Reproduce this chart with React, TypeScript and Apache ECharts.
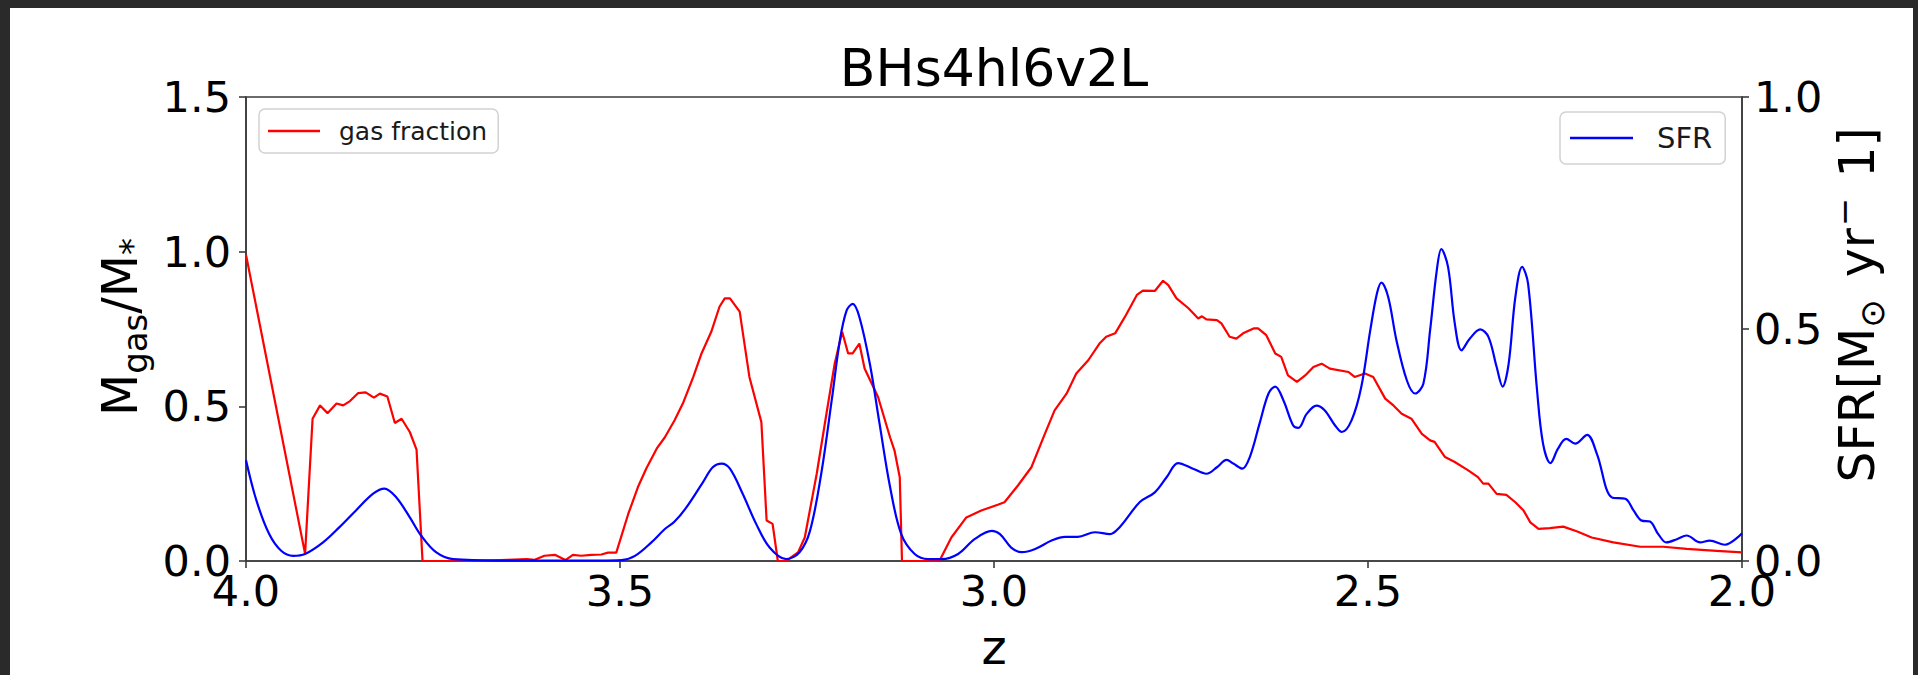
import React, { useEffect, useRef } from "react";
import * as echarts from "echarts";

const TITLE = "BHs4hl6v2L";
const X_TICKS = [4.0, 3.5, 3.0, 2.5, 2.0];
const LEFT_TICKS = [0.0, 0.5, 1.0, 1.5];
const RIGHT_TICKS = [0.0, 0.5, 1.0];
const GAS_NAME = "gas fraction";
const SFR_NAME = "SFR";

// [z, Mgas/M*]
const gasFraction: [number, number][] = [
  [4.0, 0.99], [3.921, 0.023], [3.911, 0.46], [3.901, 0.503], [3.891, 0.478], [3.879, 0.509],
  [3.87, 0.503], [3.861, 0.517], [3.85, 0.543], [3.84, 0.545], [3.829, 0.528], [3.821, 0.541],
  [3.811, 0.532], [3.801, 0.446], [3.792, 0.46], [3.781, 0.417], [3.772, 0.36], [3.764, 0.0],
  [3.7, 0.0], [3.65, 0.004], [3.625, 0.006], [3.614, 0.004], [3.601, 0.017], [3.587, 0.02],
  [3.573, 0.003], [3.563, 0.02], [3.552, 0.017], [3.538, 0.02], [3.525, 0.021], [3.516, 0.027],
  [3.505, 0.027], [3.489, 0.152], [3.476, 0.239], [3.465, 0.298], [3.451, 0.363], [3.44, 0.4],
  [3.427, 0.455], [3.416, 0.509], [3.402, 0.595], [3.391, 0.671], [3.378, 0.741], [3.367, 0.822],
  [3.36, 0.849], [3.353, 0.849], [3.34, 0.806], [3.327, 0.595], [3.311, 0.449], [3.304, 0.131],
  [3.296, 0.12], [3.289, 0.0], [3.278, 0.0], [3.262, 0.028], [3.253, 0.076], [3.237, 0.282],
  [3.224, 0.476], [3.213, 0.638], [3.203, 0.741], [3.195, 0.671], [3.189, 0.671], [3.18, 0.703],
  [3.173, 0.622], [3.155, 0.53], [3.139, 0.4], [3.133, 0.357], [3.126, 0.271], [3.123, 0.0],
  [3.073, 0.0], [3.057, 0.076], [3.037, 0.141], [3.017, 0.163], [2.995, 0.182], [2.986, 0.19],
  [2.968, 0.244], [2.95, 0.303], [2.932, 0.411], [2.919, 0.487], [2.903, 0.541], [2.89, 0.606],
  [2.874, 0.649], [2.859, 0.703], [2.85, 0.725], [2.838, 0.736], [2.825, 0.789], [2.809, 0.86],
  [2.801, 0.874], [2.785, 0.873], [2.774, 0.906], [2.767, 0.892], [2.756, 0.849], [2.74, 0.817],
  [2.727, 0.784], [2.722, 0.791], [2.716, 0.781], [2.702, 0.779], [2.696, 0.768], [2.685, 0.725],
  [2.676, 0.719], [2.667, 0.736], [2.653, 0.752], [2.647, 0.752], [2.636, 0.73], [2.624, 0.671],
  [2.616, 0.66], [2.607, 0.6], [2.595, 0.579], [2.584, 0.6], [2.573, 0.627], [2.562, 0.638],
  [2.551, 0.622], [2.526, 0.611], [2.518, 0.595], [2.504, 0.606], [2.493, 0.595], [2.477, 0.525],
  [2.466, 0.503], [2.455, 0.476], [2.442, 0.46], [2.428, 0.411], [2.417, 0.39], [2.411, 0.385],
  [2.397, 0.336], [2.384, 0.32], [2.366, 0.293], [2.353, 0.271], [2.346, 0.25], [2.339, 0.25],
  [2.328, 0.217], [2.315, 0.214], [2.303, 0.19], [2.292, 0.163], [2.283, 0.125], [2.272, 0.104],
  [2.257, 0.106], [2.239, 0.111], [2.221, 0.096], [2.201, 0.076], [2.172, 0.06], [2.136, 0.046],
  [2.105, 0.046], [2.074, 0.039], [2.034, 0.033], [2.0, 0.028],
];

// [z, SFR]
const sfr: [number, number][] = [
  [4.0, 0.217], [3.986, 0.13], [3.969, 0.058], [3.953, 0.022], [3.937, 0.011], [3.921, 0.015],
  [3.897, 0.04], [3.875, 0.073], [3.853, 0.109], [3.83, 0.145], [3.815, 0.156], [3.799, 0.137],
  [3.781, 0.094], [3.766, 0.055], [3.746, 0.019], [3.723, 0.004], [3.661, 0.001], [3.527, 0.001],
  [3.498, 0.002], [3.48, 0.011], [3.458, 0.04], [3.44, 0.069], [3.427, 0.085], [3.411, 0.116],
  [3.389, 0.17], [3.376, 0.202], [3.364, 0.21], [3.353, 0.199], [3.336, 0.145], [3.318, 0.08],
  [3.3, 0.029], [3.278, 0.004], [3.26, 0.019], [3.246, 0.065], [3.231, 0.188], [3.217, 0.346],
  [3.206, 0.476], [3.197, 0.54], [3.189, 0.554], [3.18, 0.526], [3.166, 0.425], [3.153, 0.296],
  [3.139, 0.16], [3.124, 0.058], [3.106, 0.015], [3.088, 0.004], [3.07, 0.004], [3.048, 0.015],
  [3.026, 0.047], [3.003, 0.065], [2.992, 0.058], [2.977, 0.029], [2.963, 0.019], [2.945, 0.026],
  [2.923, 0.044], [2.905, 0.052], [2.888, 0.052], [2.865, 0.062], [2.845, 0.058], [2.832, 0.073],
  [2.805, 0.127], [2.785, 0.148], [2.769, 0.181], [2.754, 0.211], [2.734, 0.199], [2.716, 0.188],
  [2.702, 0.202], [2.689, 0.218], [2.68, 0.21], [2.668, 0.199], [2.658, 0.224], [2.645, 0.296],
  [2.633, 0.361], [2.624, 0.376], [2.613, 0.346], [2.6, 0.292], [2.593, 0.287], [2.582, 0.317],
  [2.569, 0.335], [2.558, 0.325], [2.544, 0.292], [2.535, 0.278], [2.522, 0.303], [2.509, 0.375],
  [2.497, 0.497], [2.488, 0.577], [2.482, 0.6], [2.473, 0.569], [2.462, 0.476], [2.448, 0.389],
  [2.437, 0.361], [2.426, 0.382], [2.417, 0.497], [2.408, 0.627], [2.402, 0.672], [2.393, 0.634],
  [2.384, 0.512], [2.375, 0.454], [2.364, 0.479], [2.35, 0.499], [2.339, 0.483], [2.328, 0.418],
  [2.32, 0.376], [2.312, 0.425], [2.303, 0.569], [2.294, 0.634], [2.286, 0.598], [2.274, 0.368],
  [2.266, 0.253], [2.256, 0.211], [2.246, 0.242], [2.235, 0.263], [2.223, 0.253], [2.207, 0.272],
  [2.194, 0.231], [2.174, 0.137], [2.156, 0.134], [2.145, 0.109], [2.134, 0.087], [2.123, 0.085],
  [2.112, 0.058], [2.101, 0.04], [2.087, 0.047], [2.074, 0.055], [2.056, 0.04], [2.043, 0.044],
  [2.023, 0.035], [2.0, 0.06],
];

const FONT = "DejaVu Sans";
const AXIS_COLOR = "#3c3c3c";

let measureCtx: CanvasRenderingContext2D | null = null;
function measure(text: string, size: number): number {
  if (!measureCtx) measureCtx = document.createElement("canvas").getContext("2d");
  if (!measureCtx) return text.length * size * 0.6;
  measureCtx.font = `${size}px "${FONT}"`;
  return measureCtx.measureText(text).width;
}

type Part = { t: string; size: number; dy: number; gap?: number };
// builds text pieces on a common baseline (local y = 0), centred on local x = 0
function mathPieces(parts: Part[]) {
  const widths = parts.map((p) => measure(p.t, p.size) + (p.gap || 0));
  const total = widths.reduce((a, b) => a + b, 0);
  let x = -total / 2;
  return parts.map((p, i) => {
    const el = {
      type: "text",
      x: x + (p.gap || 0),
      y: p.dy - 0.346 * p.size,
      style: {
        text: p.t,
        fontSize: p.size,
        fontFamily: FONT,
        fill: "#000",
        align: "left",
        verticalAlign: "middle",
      },
    };
    x += widths[i];
    return el;
  });
}

export default function App() {
  const ref = useRef<HTMLDivElement>(null);
  useEffect(() => {
    document.body.style.margin = "0";
    const chart = echarts.init(ref.current!, undefined, { renderer: "svg" });
    const S = 49;
    const s = 34;
    const leftLabel = mathPieces([
      { t: "M", size: S, dy: 0 },
      { t: "gas", size: s, dy: 10 },
      { t: "/M", size: S, dy: 0 },
      { t: "*", size: s, dy: 7 },
    ]);
    const rightLabel = mathPieces([
      { t: "SFR[M", size: S, dy: 0 },
      { t: "\u2299", size: s, dy: 10 },
      { t: "yr", size: S, dy: 0, gap: 22 },
      { t: "\u2212", size: s, dy: -18, gap: 2 },
      { t: "1]", size: S, dy: 0, gap: 20 },
    ]);
    const tickFmt = (v: number) => v.toFixed(1);
    const option: any = {
      animation: false,
      backgroundColor: "#2a2a2a",
      title: {
        text: TITLE,
        left: 994,
        top: 68,
        padding: 0,
        textAlign: "center",
        textVerticalAlign: "middle",
        textStyle: { fontFamily: FONT, fontSize: 52, fontWeight: "normal", color: "#000" },
      },
      grid: {
        left: 246,
        top: 97,
        right: 176,
        bottom: 114,
        show: true,
        backgroundColor: "#fff",
        borderColor: AXIS_COLOR,
        borderWidth: 1.6,
      },
      legend: [
        {
          data: [GAS_NAME],
          left: 259,
          top: 109,
          padding: [9, 11, 9, 9],
          icon: "rect",
          itemWidth: 52,
          itemHeight: 2.4,
          backgroundColor: "#fff",
          borderColor: "#d2d2d2",
          borderWidth: 1.5,
          borderRadius: 6,
          selectedMode: false,
          textStyle: { fontFamily: FONT, fontSize: 25, color: "#1a1a1a", padding: [0, 0, 0, 14], lineHeight: 26 },
        },
        {
          data: [SFR_NAME],
          left: 1560,
          top: 112,
          padding: [11, 13, 11, 10],
          icon: "rect",
          itemWidth: 63,
          itemHeight: 2.6,
          backgroundColor: "#fff",
          borderColor: "#d2d2d2",
          borderWidth: 1.5,
          borderRadius: 6,
          selectedMode: false,
          textStyle: { fontFamily: FONT, fontSize: 29, color: "#1a1a1a", padding: [0, 0, 0, 19], lineHeight: 30 },
        },
      ],
      xAxis: {
        type: "value",
        min: X_TICKS[X_TICKS.length - 1],
        max: X_TICKS[0],
        interval: 0.5,
        inverse: true,
        position: "bottom",
        axisLine: { show: true, onZero: false, lineStyle: { color: AXIS_COLOR, width: 1.6 } },
        axisTick: { show: true, inside: false, length: 7, lineStyle: { color: AXIS_COLOR, width: 1.6 } },
        axisLabel: { margin: 8, fontFamily: FONT, fontSize: 43, color: "#000", formatter: tickFmt },
        splitLine: { show: false },
      },
      yAxis: [
        {
          type: "value",
          position: "left",
          min: LEFT_TICKS[0],
          max: LEFT_TICKS[LEFT_TICKS.length - 1],
          interval: 0.5,
          axisLine: { show: true, lineStyle: { color: AXIS_COLOR, width: 1.6 } },
          axisTick: { show: true, inside: false, length: 7, lineStyle: { color: AXIS_COLOR, width: 1.6 } },
          axisLabel: { margin: 15, fontFamily: FONT, fontSize: 43, color: "#000", formatter: tickFmt },
          splitLine: { show: false },
        },
        {
          type: "value",
          position: "right",
          min: RIGHT_TICKS[0],
          max: RIGHT_TICKS[RIGHT_TICKS.length - 1],
          interval: 0.5,
          axisLine: { show: true, lineStyle: { color: AXIS_COLOR, width: 1.6 } },
          axisTick: { show: true, inside: false, length: 7, lineStyle: { color: AXIS_COLOR, width: 1.6 } },
          axisLabel: { margin: 12, fontFamily: FONT, fontSize: 43, color: "#000", formatter: tickFmt },
          splitLine: { show: false },
        },
      ],
      graphic: [
        { type: "rect", z: -100, silent: true, shape: { x: 10, y: 8, width: 1903, height: 690 }, style: { fill: "#ffffff" } },
        { type: "group", x: 137, y: 327, rotation: Math.PI / 2, children: leftLabel },
        { type: "group", x: 1874, y: 305, rotation: Math.PI / 2, children: rightLabel },
        {
          type: "text",
          x: 994,
          y: 647,
          style: { text: "z", fontFamily: FONT, fontSize: 48, fill: "#000", align: "center", verticalAlign: "middle" },
        },
      ],
      series: [
        {
          name: GAS_NAME,
          type: "line",
          yAxisIndex: 0,
          data: gasFraction,
          symbol: "none",
          clip: true,
          z: 2,
          lineStyle: { color: "#ff0000", width: 2.2 },
          itemStyle: { color: "#ff0000" },
        },
        {
          name: SFR_NAME,
          type: "line",
          yAxisIndex: 1,
          data: sfr,
          symbol: "none",
          smooth: 0.35,
          clip: true,
          z: 3,
          lineStyle: { color: "#0000ff", width: 2.2 },
          itemStyle: { color: "#0000ff" },
        },
      ],
    };
    chart.setOption(option);
    return () => chart.dispose();
  }, []);
  return <div ref={ref} style={{ position: "fixed", left: 0, top: 0, width: 1918, height: 675 }} />;
}
